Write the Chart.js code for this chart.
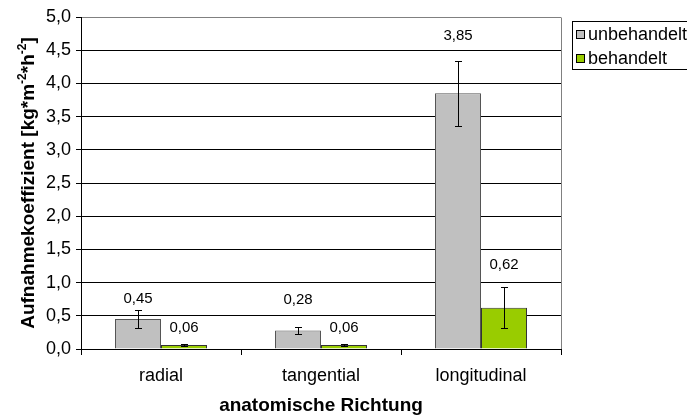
<!DOCTYPE html>
<html>
<head>
<meta charset="utf-8">
<script src="https://cdn.jsdelivr.net/npm/chart.js@4/dist/chart.umd.min.js"></script>
<style>
  html, body { margin: 0; padding: 0; background: #ffffff; }
  #wrap { width: 687px; height: 415px; position: relative; }
</style>
</head>
<body>
<div id="wrap"><canvas id="chart" width="687" height="415"></canvas></div>
<script>
// Water uptake coefficients per anatomical direction
const categories = ['radial', 'tangential', 'longitudinal'];
const seriesNames = ['unbehandelt', 'behandelt'];
const untreated = [0.45, 0.28, 3.85];
const treated = [0.06, 0.06, 0.62];
const untreatedErr = [0.13, 0.05, 0.49];
const treatedErr = [0.01, 0.01, 0.31];
const yTickValues = [0, 0.5, 1, 1.5, 2, 2.5, 3, 3.5, 4, 4.5, 5];

const FONT = "'Liberation Sans', Arial, sans-serif";
Chart.defaults.font.family = FONT;
Chart.defaults.color = '#000';

const deComma = v => v.toFixed(2).replace(/0$/, '').replace('.', ',');

// Error bars with small caps, drawn through the value scale
const errorBars = {
  id: 'errorBars',
  afterDatasetsDraw(chart) {
    const { ctx, scales: { y } } = chart;
    ctx.save();
    ctx.strokeStyle = '#000';
    ctx.lineWidth = 1;
    chart.data.datasets.forEach((ds, di) => {
      chart.getDatasetMeta(di).data.forEach((bar, i) => {
        const v = ds.data[i], e = ds.errors[i];
        const x = Math.round(bar.x) + 0.5;
        const top = Math.round(y.getPixelForValue(v + e)) + 0.5;
        const bot = Math.round(y.getPixelForValue(v - e)) + 0.5;
        ctx.beginPath();
        ctx.moveTo(x, top); ctx.lineTo(x, bot);
        ctx.moveTo(x - 3.5, top); ctx.lineTo(x + 3.5, top);
        ctx.moveTo(x - 3.5, bot); ctx.lineTo(x + 3.5, bot);
        ctx.stroke();
      });
    });
    ctx.restore();
  }
};

// Value labels above each error bar
const valueLabels = {
  id: 'valueLabels',
  afterDatasetsDraw(chart, args, opts) {
    const { ctx, scales: { y } } = chart;
    ctx.save();
    ctx.font = opts.size + 'px ' + FONT;
    ctx.fillStyle = '#000';
    ctx.textAlign = 'center';
    ctx.textBaseline = 'middle';
    chart.data.datasets.forEach((ds, di) => {
      chart.getDatasetMeta(di).data.forEach((bar, i) => {
        const top = y.getPixelForValue(ds.data[i] + ds.errors[i]);
        ctx.fillText(deComma(ds.data[i]), bar.x, top - opts.lift[di][i]);
      });
    });
    ctx.restore();
  }
};

// Plot frame on the right, rotated y title with superscripts, and legend box
const decorations = {
  id: 'decorations',
  afterDraw(chart, args, opts) {
    const { ctx, chartArea: a } = chart;
    ctx.save();
    ctx.strokeStyle = '#808080';
    ctx.lineWidth = 1;
    ctx.beginPath();
    ctx.moveTo(Math.round(a.right) + 0.5, Math.round(a.top) + 0.5);
    ctx.lineTo(Math.round(a.right) + 0.5, Math.round(a.bottom));
    ctx.stroke();

    // y-axis title
    const parts = opts.yTitle;
    const big = 'bold ' + opts.titleSize + 'px ' + FONT;
    const small = 'bold ' + opts.supSize + 'px ' + FONT;
    let total = 0;
    parts.forEach(p => { ctx.font = p.sup ? small : big; total += ctx.measureText(p.t).width; });
    ctx.translate(opts.titleX, (a.top + a.bottom) / 2);
    ctx.rotate(-Math.PI / 2);
    ctx.fillStyle = '#000';
    ctx.textBaseline = 'alphabetic';
    ctx.textAlign = 'left';
    let x = -total / 2;
    parts.forEach(p => {
      ctx.font = p.sup ? small : big;
      ctx.fillText(p.t, x, p.sup ? -opts.supRise : 0);
      x += ctx.measureText(p.t).width;
    });
    ctx.restore();

    // legend
    const L = opts.legend;
    ctx.save();
    ctx.strokeStyle = '#000';
    ctx.lineWidth = 1;
    ctx.strokeRect(L.x + 0.5, L.y + 0.5, L.w, L.h);
    ctx.font = L.size + 'px ' + FONT;
    ctx.textBaseline = 'alphabetic';
    ctx.textAlign = 'left';
    chart.data.datasets.forEach((ds, i) => {
      const base = L.y + L.firstBase + i * L.rowGap;
      ctx.fillStyle = ds.backgroundColor;
      ctx.fillRect(L.x + 4, base - 10, 8, 8);
      ctx.strokeStyle = '#000';
      ctx.strokeRect(L.x + 4.5, base - 9.5, 8, 8);
      ctx.fillStyle = '#000';
      ctx.fillText(ds.label, L.x + 16, base);
    });
    ctx.restore();
  }
};

new Chart(document.getElementById('chart'), {
  type: 'bar',
  data: {
    labels: categories,
    datasets: [
      { label: seriesNames[0], data: untreated, errors: untreatedErr,
        backgroundColor: '#C0C0C0', borderColor: '#555555', borderWidth: 1 },
      { label: seriesNames[1], data: treated, errors: treatedErr,
        backgroundColor: '#99CC00', borderColor: '#333333', borderWidth: 1 }
    ]
  },
  options: {
    responsive: false,
    animation: false,
    devicePixelRatio: 1,
    layout: { padding: { top: 17, right: 126, left: 0, bottom: 0 } },
    datasets: { bar: { categoryPercentage: 0.575, barPercentage: 1.0, borderSkipped: 'bottom' } },
    plugins: {
      legend: { display: false },
      tooltip: { enabled: false },
      valueLabels: { size: 15, lift: [[12, 27, 25], [16, 16, 22]] },
      decorations: {
        titleSize: 19, supSize: 12, supRise: 8, titleX: 34,
        yTitle: [
          { t: 'Aufnahmekoeffizient [kg*m' }, { t: '-2', sup: true },
          { t: '*h' }, { t: '-2', sup: true }, { t: ']' }
        ],
        legend: { x: 572, y: 21, w: 130, h: 48, size: 18, firstBase: 19, rowGap: 24 }
      }
    },
    scales: {
      x: {
        grid: { offset: true, drawOnChartArea: false, drawTicks: true, tickLength: 6, tickColor: '#000' },
        border: { color: '#000' },
        ticks: { font: { size: 18 }, color: '#000', padding: 10 },
        title: { display: true, text: 'anatomische Richtung', font: { size: 19, weight: 'bold', lineHeight: 1 }, color: '#000', padding: 0 },
        afterFit(s) { s.height = 66; }
      },
      y: {
        min: 0, max: 5,
        afterBuildTicks(s) { s.ticks = yTickValues.map(v => ({ value: v })); },
        ticks: { font: { size: 18 }, color: '#000', padding: 5, callback: v => v.toFixed(1).replace('.', ',') },
        grid: { color: c => (c.tick && c.tick.value === 5 ? '#808080' : '#000'), tickLength: 5, tickColor: '#000' },
        border: { color: '#000' },
        afterFit(s) { s.width = 81; }
      }
    }
  },
  plugins: [errorBars, valueLabels, decorations]
});
</script>
</body>
</html>
